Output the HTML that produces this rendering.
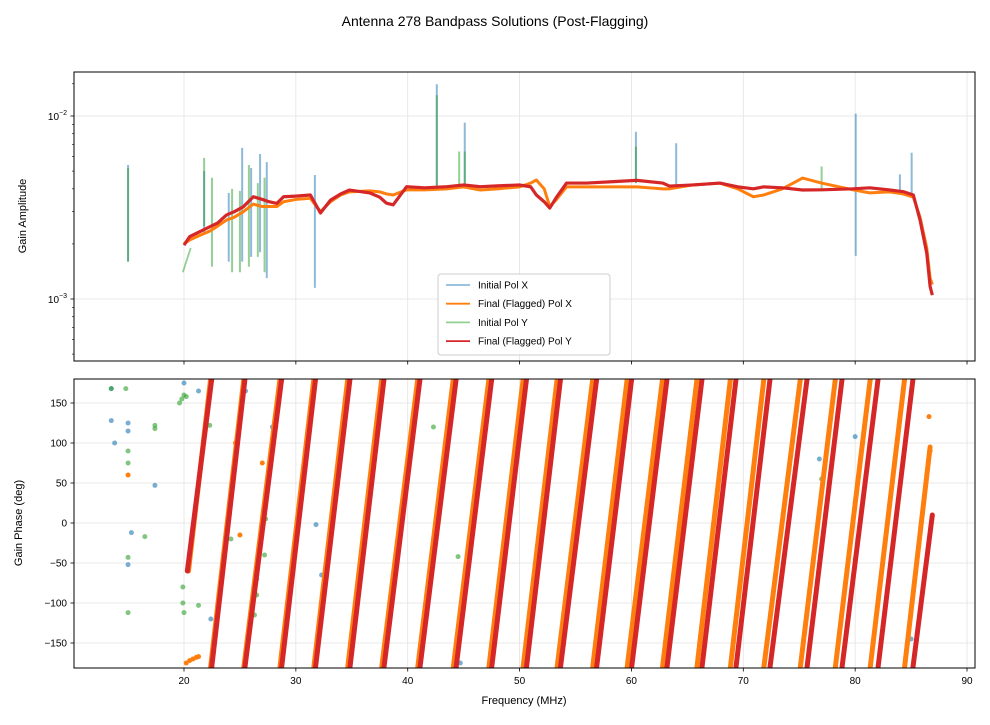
<!DOCTYPE html>
<html><head><meta charset="utf-8">
<style>
body{margin:0;background:#fff;}
svg text{font-family:"Liberation Sans",sans-serif;fill:#000;}
</style></head>
<body>
<svg id="fig" width="990" height="720" viewBox="0 0 990 720" xmlns="http://www.w3.org/2000/svg">
<defs>
<clipPath id="c1"><rect x="74" y="72" width="901" height="289"/></clipPath>
<clipPath id="c2"><rect x="74" y="379" width="901" height="289"/></clipPath>
</defs>
<text x="495" y="26" font-size="14" text-anchor="middle">Antenna 278 Bandpass Solutions (Post-Flagging)</text>
<g id="topPanel"></g>
<g id="botPanel"></g>
</svg>
<script>
// ---- Data ----
const ampFreq   = [20.0,20.5,21.2,22.3,23.0,23.8,24.5,25.3,26.2,27.0,27.6,28.3,28.9,30.0,31.3,32.2,33.1,34.0,34.8,36.6,37.5,38.1,38.7,39.9,41.5,43.5,45.0,46.5,48.0,50.0,51.0,51.5,52.2,52.7,53.3,54.2,56.0,58.4,60.5,62.8,63.4,65.5,67.9,69.5,70.9,71.8,73.5,75.3,77.0,79.8,81.3,83.0,84.3,85.2,85.8,86.4,86.7,86.9];
const redAmp    = [1.97,2.19,2.3,2.48,2.6,2.88,3.0,3.19,3.62,3.5,3.4,3.33,3.62,3.65,3.70,2.95,3.47,3.75,3.94,3.80,3.6,3.34,3.27,4.11,4.05,4.11,4.2,4.11,4.15,4.2,4.1,3.7,3.4,3.14,3.6,4.30,4.3,4.38,4.45,4.3,4.14,4.2,4.3,4.1,4.0,4.1,4.05,3.94,3.95,4.0,4.05,3.95,3.86,3.7,2.7,1.78,1.17,1.05];
const orangeAmp = [2.0,2.1,2.2,2.35,2.5,2.7,2.8,3.0,3.3,3.2,3.2,3.2,3.4,3.5,3.55,3.0,3.4,3.7,3.85,3.9,3.85,3.75,3.7,3.95,3.95,4.0,4.1,3.94,4.0,4.1,4.3,4.47,4.0,3.2,3.5,4.1,4.1,4.1,4.1,4.0,4.0,4.2,4.3,4.0,3.62,3.7,4.0,4.58,4.3,3.95,3.8,3.85,3.75,3.6,2.8,1.9,1.3,1.2];
const initYStartF = [19.9,20.2,20.6];
const initYStartA = [1.4,1.6,1.9];
const spikeXFreq = [15.0,21.8,24.0,25.2,26.0,26.8,27.4,31.7,42.6,45.1,60.4,64.0,80.05,84.0,85.05];
const spikeXTop  = [5.4,5.0,3.8,6.7,5.2,6.2,5.6,4.76,14.9,9.2,8.2,7.1,10.3,4.8,6.3];
const spikeXBot  = [1.6,2.3,1.6,1.6,1.7,1.8,1.3,1.15,4.1,4.1,4.3,4.2,1.72,3.8,3.7];
const spikeYFreq = [15.0,21.8,22.5,24.3,25.0,25.8,26.6,27.2,42.6,44.6,45.1,60.4,77.0];
const spikeYTop  = [5.2,5.9,4.6,4.0,3.9,5.4,4.3,4.6,13.0,6.4,6.4,6.8,5.3];
const spikeYBot  = [1.6,2.5,1.5,1.4,1.4,1.5,1.7,1.4,4.1,4.1,4.1,4.3,4.0];
const redWraps    = [22.48,25.45,28.73,31.76,34.84,37.88,41.10,44.33,47.51,50.62,53.66,56.89,60.02,63.18,66.31,69.35,72.39,75.70,78.83,82.05,85.17];
const orangeWraps = [22.38,25.35,28.58,31.61,34.64,37.68,40.90,44.08,47.26,50.32,53.36,56.54,59.62,62.78,65.86,68.85,71.84,75.10,78.23,81.35,84.42];
const redStart = [20.3,-60], redEnd = [86.9,10];
const orangeStart = [20.4,-60], orangeEnd = [86.7,95];
const blueOutF = [13.5,13.5,13.8,15.0,15.0,15.0,15.3,17.4,20.0,21.3,22.4,26.5,26.4,31.8,32.3,44.7,76.8,80.0,85.0,25.4,25.5,27.9,28.0];
const blueOutP = [168,128,100,125,115,-52,-12,47,175,165,-120,-70,-75,-2,-65,-175,80,108,-145,175,165,120,115];
const greenOutF = [13.5,14.8,15.0,15.0,15.0,15.0,16.5,17.4,17.4,19.6,19.8,20.0,20.2,19.9,20.0,21.3,22.3,42.3,44.5,77.0,80.0,26.3,26.5,27.2,27.3,24.0,24.2,19.9];
const greenOutP = [168,168,90,75,-43,-112,-17,122,118,150,155,160,158,-100,-112,-103,122,120,-42,55,-45,-115,-90,-40,5,10,-20,-80];
const orangeOutF = [15.0,86.6,86.7,20.2,20.5,20.8,21.1,21.3,24.6,25.0,27.0];
const orangeOutP = [60,133,90,-175,-172,-170,-168,-167,100,-15,75];
// ---- Axes ----
const X0=74,X1=975;
const fx = f => 184 + (f-20)*11.186;
const ya = a => 116 + (-2 - Math.log10(a*1e-3))*183;
const yp = p => 523 - p*0.8;
const NS="http://www.w3.org/2000/svg";
function mk(parent,tag,attrs){const e=document.createElementNS(NS,tag);for(const k in attrs)e.setAttribute(k,attrs[k]);parent.appendChild(e);return e;}
const topG=document.getElementById('topPanel'), botG=document.getElementById('botPanel');
const xt=[20,30,40,50,60,70,80,90];
[[topG,72,361],[botG,379,668]].forEach(([g,y0,y1])=>{
  xt.forEach(v=>{const l=mk(g,'line',{x1:fx(v),x2:fx(v),y1:y0,y2:y1,stroke:'#e3e3e3','stroke-width':0.8});
  
  });
});
[10,1].forEach(v=>{const l=mk(topG,'line',{x1:X0,x2:X1,y1:ya(v),y2:ya(v),stroke:'#e3e3e3','stroke-width':0.8});

});
const pt=[-150,-100,-50,0,50,100,150];
pt.forEach(v=>{const l=mk(botG,'line',{x1:X0,x2:X1,y1:yp(v),y2:yp(v),stroke:'#e3e3e3','stroke-width':0.8});

});
// amplitude panel
const ca=mk(topG,'g',{'clip-path':'url(#c1)'});
function poly(g,fs,vs,col,w,op,name){const p=mk(g,'polyline',{points:fs.map((f,i)=>fx(f)+','+ya(vs[i])).join(' '),fill:'none',stroke:col,'stroke-width':w,opacity:op,'stroke-linejoin':'round'});

return p;}
poly(ca,initYStartF,initYStartA,'#2ca02c',1.8,0.5,'initial-pol-y-start');
poly(ca,ampFreq,orangeAmp,'#1f77b4',1.5,0.5,'initial-pol-x-line');
poly(ca,ampFreq,redAmp,'#2ca02c',1.5,0.5,'initial-pol-y-line');
spikeXFreq.forEach((f,i)=>{const l=mk(ca,'line',{x1:fx(f),x2:fx(f),y1:ya(spikeXTop[i]),y2:ya(spikeXBot[i]),stroke:'#1f77b4','stroke-width':2,opacity:0.5});

});
spikeYFreq.forEach((f,i)=>{const l=mk(ca,'line',{x1:fx(f),x2:fx(f),y1:ya(spikeYTop[i]),y2:ya(spikeYBot[i]),stroke:'#2ca02c','stroke-width':2,opacity:0.5});

});
poly(ca,ampFreq,orangeAmp,'#ff7f0e',3,1,'final-pol-x-line');
poly(ca,ampFreq,redAmp,'#d62728',3.2,1,'final-pol-y-line');
// phase panel
const cp=mk(botG,'g',{'clip-path':'url(#c2)'});
function dots(fs,ps,col,op,name){fs.forEach((f,i)=>{const c=mk(cp,'circle',{cx:fx(f),cy:yp(ps[i]),r:2.5,fill:col,opacity:op});

});}
dots(blueOutF,blueOutP,'#1f77b4',0.6,'initial-pol-x-point');
dots(greenOutF,greenOutP,'#2ca02c',0.6,'initial-pol-y-point');
function segs(w,st,en,col,name){
  const s=[[st[0],st[1],w[0],180]];
  for(let i=0;i<w.length-1;i++)s.push([w[i],-180,w[i+1],180]);
  s.push([w[w.length-1],-180,en[0],en[1]]);
  s.forEach(d=>{const l=mk(cp,'line',{x1:fx(d[0]),y1:yp(d[1]),x2:fx(d[2]),y2:yp(d[3]),stroke:col,'stroke-width':5,'stroke-linecap':'round','stroke-dasharray':'9 0.8'});
  
  });
}
segs(orangeWraps,orangeStart,orangeEnd,'#ff7f0e','final-pol-x-phase-segment');
dots(orangeOutF,orangeOutP,'#ff7f0e',1,'final-pol-x-point');
segs(redWraps,redStart,redEnd,'#d62728','final-pol-y-phase-segment');
// frames, ticks, labels
[[topG,72],[botG,379]].forEach(([g,y0])=>{
  const r=mk(g,'rect',{x:X0,y:y0,width:X1-X0,height:289,fill:'none',stroke:'#000','stroke-width':1});
  
  
  xt.forEach(v=>{mk(g,'line',{x1:fx(v),x2:fx(v),y1:y0+289,y2:y0+292.5,stroke:'#000','stroke-width':0.8});});
});
xt.forEach(v=>{const t=mk(botG,'text',{x:fx(v),y:684,'font-size':10,'text-anchor':'middle'});t.textContent=v;

});
[[10,'−2'],[1,'−3']].forEach(([v,e])=>{
  mk(topG,'line',{x1:X0-3.5,x2:X0,y1:ya(v),y2:ya(v),stroke:'#000','stroke-width':0.8});
  const t=mk(topG,'text',{x:X0-7,y:ya(v)+4,'font-size':10,'text-anchor':'end'});
  
  
  t.textContent='10';
  const s=mk(t,'tspan',{dy:-5,'font-size':7});s.textContent=e;
});
[0.5,0.6,0.7,0.8,0.9,2,3,4,5,6,7,8,9,15].forEach(v=>{mk(topG,'line',{x1:X0-2,x2:X0,y1:ya(v),y2:ya(v),stroke:'#000','stroke-width':0.6});});
pt.forEach(v=>{mk(botG,'line',{x1:X0-3.5,x2:X0,y1:yp(v),y2:yp(v),stroke:'#000','stroke-width':0.8});
const t=mk(botG,'text',{x:X0-7,y:yp(v)+3.5,'font-size':10,'text-anchor':'end'});t.textContent=v<0?'−'+(-v):v;

});
const xl=mk(botG,'text',{x:524,y:704,'font-size':11,'text-anchor':'middle'});xl.textContent='Frequency (MHz)';


const yl1=mk(topG,'text',{x:0,y:0,'font-size':11,'text-anchor':'middle',transform:'translate(26,216) rotate(-90)'});yl1.textContent='Gain Amplitude';


const yl2=mk(botG,'text',{x:0,y:0,'font-size':11,'text-anchor':'middle',transform:'translate(22,523) rotate(-90)'});yl2.textContent='Gain Phase (deg)';


// legend
const lg=mk(topG,'g',{});


mk(lg,'rect',{x:438,y:274,width:172,height:81,rx:3,fill:'#fff','fill-opacity':0.85,stroke:'#ccc'});
const legNames=['Initial Pol X','Final (Flagged) Pol X','Initial Pol Y','Final (Flagged) Pol Y'];
const legCols=['#1f77b4','#ff7f0e','#2ca02c','#d62728'];
const legOps=[0.5,1,0.5,1];
legNames.forEach((n,i)=>{const y=285+i*18.7;
  const e=mk(lg,'g',{});
  
  
  mk(e,'line',{x1:446,x2:470,y1:y,y2:y,stroke:legCols[i],'stroke-width':1.8,opacity:legOps[i]});
  const t=mk(e,'text',{x:478,y:y+3.5,'font-size':10});t.textContent=n;});
</script>
</body></html>
